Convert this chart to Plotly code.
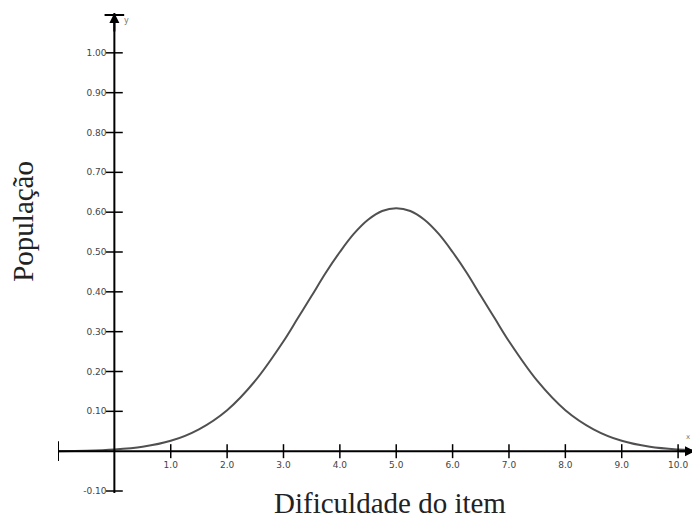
import plotly.graph_objects as go

# Curve values
x_vals = [-1.0, -0.5, 0.0, 0.5, 1.0, 1.5, 2.0, 2.5, 3.0, 3.25, 3.5, 3.75, 4.0, 4.25, 4.5, 4.75, 5.0,
          5.25, 5.5, 5.75, 6.0, 6.25, 6.5, 6.75, 7.0, 7.5, 8.0, 8.5, 9.0, 9.5, 10.0, 10.3]
y_vals = [0.000, 0.001, 0.004, 0.011, 0.026, 0.055, 0.103, 0.177, 0.276, 0.333, 0.390, 0.448, 0.500, 0.546, 0.581, 0.603, 0.610,
          0.603, 0.581, 0.546, 0.500, 0.448, 0.390, 0.333, 0.276, 0.177, 0.103, 0.055, 0.026, 0.011, 0.004, 0.002]

x_ticks = [1, 2, 3, 4, 5, 6, 7, 8, 9, 10]
x_tick_text = ["1.0", "2.0", "3.0", "4.0", "5.0", "6.0", "7.0", "8.0", "9.0", "10.0"]
y_ticks = [-0.1, 0.1, 0.2, 0.3, 0.4, 0.5, 0.6, 0.7, 0.8, 0.9, 1.0]
y_tick_text = ["-0.10", "0.10", "0.20", "0.30", "0.40", "0.50", "0.60", "0.70", "0.80", "0.90", "1.00"]

x_range = [-1.0, 10.3]
y_range = [-0.105, 1.1]

x_title = "Dificuldade do item"
y_title = "População"

fig = go.Figure()

# the curve
fig.add_trace(go.Scatter(x=x_vals, y=y_vals, mode="lines",
                         line=dict(color="#505050", width=2, shape="spline", smoothing=1.0),
                         hoverinfo="skip", showlegend=False))

# tick marks crossing the axes
fig.add_trace(go.Scatter(x=x_ticks, y=[0] * len(x_ticks), mode="markers",
                         marker=dict(symbol="line-ns-open", size=10, color="black",
                                     line=dict(color="black", width=1.5)),
                         hoverinfo="skip", showlegend=False))
fig.add_trace(go.Scatter(x=[0] * len(y_ticks), y=y_ticks, mode="markers",
                         marker=dict(symbol="line-ew-open", size=12, color="black",
                                     line=dict(color="black", width=1.5)),
                         hoverinfo="skip", showlegend=False))
# axis end bars
fig.add_trace(go.Scatter(x=[x_range[0]], y=[0], mode="markers",
                         marker=dict(symbol="line-ns-open", size=14, color="black",
                                     line=dict(color="black", width=2)),
                         hoverinfo="skip", showlegend=False))
fig.add_trace(go.Scatter(x=[0], y=[y_range[1] - 0.005], mode="markers",
                         marker=dict(symbol="line-ew-open", size=14, color="black",
                                     line=dict(color="black", width=2)),
                         hoverinfo="skip", showlegend=False))

y0_frac = (0 - y_range[0]) / (y_range[1] - y_range[0])
x0_frac = (0 - x_range[0]) / (x_range[1] - x_range[0])

# the page body adds an 8px margin, so the figure is 8px smaller each way
fig.update_layout(
    width=692, height=513,
    margin=dict(l=50, r=5, t=5, b=28, autoexpand=False),
    paper_bgcolor="white", plot_bgcolor="white",
    xaxis=dict(range=x_range, showgrid=False, zeroline=False, showline=False, automargin=False,
               anchor="free", position=y0_frac, tickvals=x_ticks, ticktext=x_tick_text,
               ticks="outside", ticklen=5, tickcolor="rgba(0,0,0,0)",
               tickfont=dict(family="DejaVu Sans", size=9, color="#444444")),
    yaxis=dict(range=y_range, showgrid=False, zeroline=False, showline=False, automargin=False,
               anchor="free", position=x0_frac, tickvals=y_ticks, ticktext=y_tick_text,
               ticks="outside", ticklen=6, tickcolor="rgba(0,0,0,0)",
               tickfont=dict(family="DejaVu Sans", size=9, color="#444444")),
    shapes=[
        dict(type="line", xref="x", yref="y", x0=x_range[0], x1=x_range[1], y0=0, y1=0,
             line=dict(color="black", width=2)),
        dict(type="line", xref="x", yref="y", x0=0, x1=0, y0=y_range[0], y1=y_range[1],
             line=dict(color="black", width=2)),
    ],
    annotations=[
        dict(x=0, y=y_range[1], xref="x", yref="y", ax=0, ay=y_range[1] - 0.05, axref="x", ayref="y",
             showarrow=True, arrowhead=2, arrowsize=1, arrowwidth=2, arrowcolor="black", text=""),
        dict(x=x_range[1], y=0, xref="x", yref="y", ax=x_range[1] - 0.3, ay=0, axref="x", ayref="y",
             showarrow=True, arrowhead=2, arrowsize=1, arrowwidth=2, arrowcolor="black", text=""),
        dict(x=0.22, y=y_range[1] - 0.02, xref="x", yref="y", text="y", showarrow=False,
             font=dict(family="DejaVu Sans", size=8, color="#777777")),
        dict(x=x_range[1] - 0.12, y=0.035, xref="x", yref="y", text="x", showarrow=False,
             font=dict(family="DejaVu Sans", size=7, color="#777777")),
        dict(x=0.521, y=-0.021, xref="paper", yref="paper", text=x_title, showarrow=False,
             xanchor="center", yanchor="middle",
             font=dict(family="Liberation Serif", size=29, color="#222222")),
        dict(x=-0.055, y=0.567, xref="paper", yref="paper", text=y_title, showarrow=False,
             textangle=-90, xanchor="center", yanchor="middle",
             font=dict(family="Liberation Serif", size=29, color="#222222")),
    ],
)

fig.write_html("out.html")
